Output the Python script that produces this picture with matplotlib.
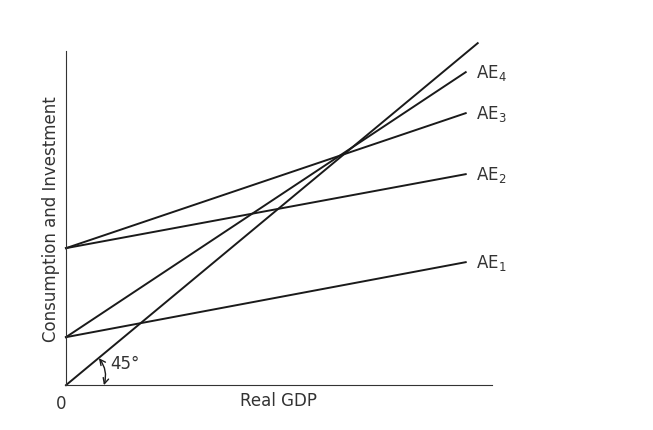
import matplotlib.pyplot as plt

# line endpoints (x, y in axis units)
line_names = ['AE$_1$', 'AE$_2$', 'AE$_3$', 'AE$_4$']
intercepts = [48, 137, 137, 48]
end_values = [123, 211, 272, 313]
x_end = 400
diag_end = (412, 342)

fig = plt.figure(figsize=(6.53, 4.31), dpi=100)
ax = fig.add_axes([0.101, 0.104, 0.652, 0.775])
ax.set_xlim(0, 426)
ax.set_ylim(0, 334)
for s in ['top', 'right']:
    ax.spines[s].set_visible(False)
ax.spines['left'].set_color('#333333')
ax.spines['bottom'].set_color('#333333')
ax.set_xticks([])
ax.set_yticks([])

for name, b, e in zip(line_names, intercepts, end_values):
    ax.plot([0, x_end], [b, e], color='#1a1a1a', lw=1.4, clip_on=False)
    ax.text(x_end + 10, e, name, fontsize=12, va='center', color='#333333')

ax.plot([0, diag_end[0]], [0, diag_end[1]], color='#1a1a1a', lw=1.4, clip_on=False)

# 45 degree marker
ax.annotate('', xy=(33, 27), xytext=(38, 0),
            arrowprops=dict(arrowstyle='<->', color='#1a1a1a', lw=1,
                            connectionstyle='arc3,rad=0.25', shrinkA=0, shrinkB=0))
ax.text(44, 17, '45°', fontsize=12, color='#333333')

ax.set_xlabel('Real GDP', fontsize=12, color='#333333', labelpad=4)
ax.set_ylabel('Consumption and Investment', fontsize=12, color='#333333', labelpad=4)
fig.text(0.086, 0.052, '0', fontsize=12, color='#333333')

fig.savefig('out.png')
